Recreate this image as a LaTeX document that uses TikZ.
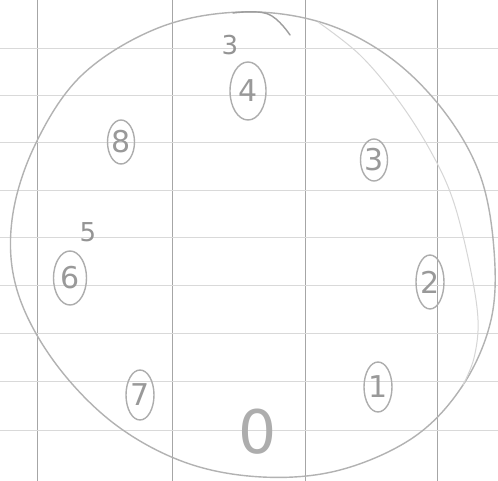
\documentclass[tikz,border=0pt]{standalone}
\usepackage{fontspec}
\setmainfont{DejaVu Sans}
\usetikzlibrary{shapes.geometric}
\begin{document}
\begin{tikzpicture}[x=1pt,y=-1pt,
  pencil/.style={draw=black!30,line width=1.4pt,line cap=round,line join=round},
  faint/.style={draw=black!16,line width=1.0pt,line cap=round},
  vgrid/.style={draw=black!35,line width=0.6pt},
  hgrid/.style={draw=black!15,line width=0.5pt},
  circled/.style={draw=black!32,line width=1.4pt,ellipse,inner sep=0pt,text=black!40,font=\fontsize{30}{30}\selectfont},
  digit/.style={text=black!42,font=\fontsize{26}{26}\selectfont,inner sep=0pt}]
\useasboundingbox (0,0) rectangle (498,481);
\fill[white] (0,0) rectangle (498,481);
% grid
\foreach \x in {37,172,305,437} \draw[vgrid] (\x,0) -- (\x,481);
\foreach \y in {48,95,142,190,237,285,333,381,430} \draw[hgrid] (0,\y) -- (498,\y);
% outer circle
\draw[pencil] plot[smooth cycle,tension=0.6] coordinates {
 (240,12) (320,22) (388,56) (443,110) (480,175) (494,250) (491,320) (463,385)
 (414,437) (340,470) (262,477) (184,462) (112,422) (53,360) (17,290) (12,220)
 (35,145) (82,75) (158,28)};
% inner faint stroke on the right
\draw[faint] plot[smooth,tension=0.6] coordinates {
 (318,22) (360,55) (398,100) (430,150) (453,200) (470,267) (478,320) (474,358) (463,385)};
% curl at top
\draw[pencil,draw=black!38] plot[smooth,tension=0.7] coordinates {(233,13) (268,14) (290,35)};
% circled numbers
\node[circled,minimum width=36pt,minimum height=58pt] (n4) at (248,91) {4};
\node[circled,minimum width=26pt,minimum height=44pt] (n8) at (121,142) {8};
\node[circled,minimum width=26pt,minimum height=42pt] (n3) at (374,160) {3};
\node[circled,minimum width=33pt,minimum height=54pt] (n6) at (70,278) {6};
\node[circled,minimum width=28pt,minimum height=54pt] (n2) at (430,282) {2};
\node[circled,minimum width=28pt,minimum height=50pt] (n7) at (140,395) {7};
\node[circled,minimum width=28pt,minimum height=50pt] (n1) at (378,387) {1};
\node[digit,font=\fontsize{60}{60}\selectfont,text=black!32] (n0) at (258,432) {0};
% loose digits
\node[digit] (l3) at (230,45) {3};
\node[digit] (l5) at (88,232) {5};
\end{tikzpicture}
\end{document}
